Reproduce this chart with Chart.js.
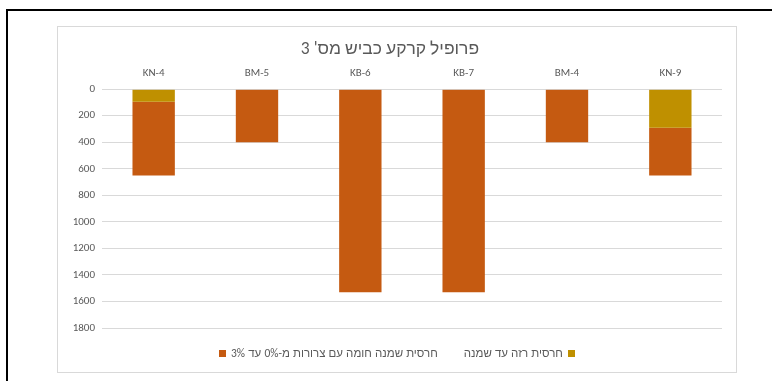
<!DOCTYPE html>
<html>
<head>
<meta charset="utf-8">
<script src="https://cdn.jsdelivr.net/npm/chart.js@4"></script>
<style>
  body { margin: 0; background: #fff; width: 772px; height: 381px; overflow: hidden; position: relative; }
  #frame { position: absolute; left: 6px; top: 9px; width: 800px; height: 400px; border-left: 2px solid #000; border-top: 2px solid #000; }
  #box { position: absolute; left: 57px; top: 26px; width: 678px; height: 345px; border: 1px solid #d9d9d9; background: #fff; }
  canvas { display: block; }
  #legend { position: absolute; left: 0; right: 0; top: 319px; display: flex; justify-content: center; gap: 26px;
            font: 11.5px Calibri, Carlito, "Liberation Sans", Arial, sans-serif; word-spacing: 0.5px; color: #595959; }
  #legend .item { display: flex; align-items: center; gap: 5px; white-space: nowrap; }
  #legend .sw { width: 7px; height: 7px; display: inline-block; }
</style>
</head>
<body>
<div id="frame"></div>
<div id="box"><canvas id="c" width="678" height="345"></canvas><div id="legend"></div></div>
<script>
// borehole names and layer thicknesses (cm)
const wells = ['KN-4', 'BM-5', 'KB-6', 'KB-7', 'BM-4', 'KN-9'];
const thinClay = [95, 0, 0, 0, 0, 290];
const fatClay = [555, 400, 1530, 1530, 400, 360];
const yTicks = [0, 200, 400, 600, 800, 1000, 1200, 1400, 1600, 1800];

const font = 'Calibri, Carlito, "Liberation Sans", Arial, sans-serif';
const grey = '#595959';

const chart = new Chart(document.getElementById('c'), {
  type: 'bar',
  data: {
    labels: wells,
    datasets: [
      { label: 'חרסית רזה עד שמנה', data: thinClay, backgroundColor: '#bf9000' },
      { label: 'חרסית שמנה חומה עם צרורות מ-0% עד 3%', data: fatClay, backgroundColor: '#c55a11' }
    ]
  },
  options: {
    responsive: false,
    animation: false,
    layout: { padding: { left: 0, right: 14, top: 8, bottom: 44 } },
    datasets: { bar: { categoryPercentage: 1, barPercentage: 0.41 } },
    plugins: {
      title: {
        display: true,
        text: "פרופיל קרקע כביש מס' 3",
        color: grey,
        font: { family: font, size: 17.5, weight: 'normal' },
        padding: { top: 4, bottom: 6 }
      },
      legend: { display: false },
      tooltip: { enabled: false }
    },
    scales: {
      x: {
        position: 'top',
        stacked: true,
        grid: { display: false },
        border: { display: false },
        ticks: { color: grey, font: { family: font, size: 11 }, padding: 1 }
      },
      y: {
        stacked: true,
        reverse: true,
        min: 0,
        max: 1800,
        afterBuildTicks: axis => { axis.ticks = yTicks.map(v => ({ value: v })); },
        afterFit: axis => { axis.width = 44; },
        grid: { color: '#d9d9d9', lineWidth: 1, drawTicks: false },
        border: { display: false },
        ticks: { color: grey, font: { family: font, size: 11 }, padding: 7, callback: v => String(v) }
      }
    }
  }
});

// legend as in the original sheet: brown item on the left (box first), gold on the right (box last)
const legend = document.getElementById('legend');
[1, 0].forEach(i => {
  const ds = chart.data.datasets[i];
  const item = document.createElement('span');
  item.className = 'item';
  const sw = document.createElement('span');
  sw.className = 'sw';
  sw.style.background = ds.backgroundColor;
  const txt = document.createElement('span');
  txt.dir = 'rtl';
  txt.textContent = ds.label;
  if (i === 1) { item.append(sw, txt); } else { item.append(txt, sw); }
  legend.append(item);
});
</script>
</body>
</html>
